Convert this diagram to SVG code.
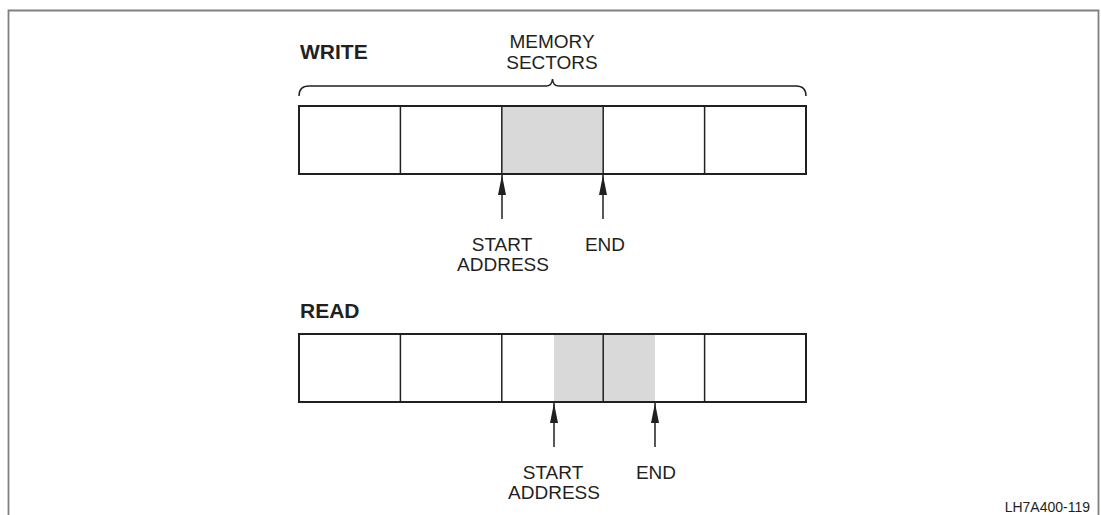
<svg xmlns="http://www.w3.org/2000/svg" width="1101" height="515" viewBox="0 0 1101 515">
<defs>
<style>
.t{font-family:"Liberation Sans",Arial,sans-serif;font-size:19px;fill:#231f20}
.b{font-family:"Liberation Sans",Arial,sans-serif;font-size:21px;font-weight:bold;fill:#231f20}
.box{fill:#fff;stroke:#231f20;stroke-width:2}
.div{stroke:#231f20;stroke-width:1.5}
.sh{fill:#d9d9d9}
.arr{stroke:#231f20;stroke-width:1.5;fill:none;marker-end:url(#ah)}
</style>
<marker id="ah" markerUnits="userSpaceOnUse" markerWidth="20" markerHeight="10" refX="20" refY="0" orient="auto" viewBox="0 -5 20 10">
<path d="M0,-4 L20,0 L0,4 Z" fill="#231f20"/>
</marker>
</defs>
<rect width="1101" height="515" fill="#fff"/>
<path d="M8.5,515 V10.5 H1098.5 V515" fill="none" stroke="#808080" stroke-width="1.8"/>
<g id="write-label"><text class="b" x="300" y="59">WRITE</text></g>
<g id="memory-sectors-label">
<text class="t" x="552" y="48" text-anchor="middle">MEMORY</text>
<text class="t" x="552" y="69" text-anchor="middle">SECTORS</text>
<path d="M299,96 Q299,86 309,86 L546,86 Q552,86 552.5,79 Q553,86 559,86 L796,86 Q806,86 806,96" fill="none" stroke="#231f20" stroke-width="1.5"/>
</g>
<g id="write-sectors">
<rect class="box" x="299" y="106" width="507" height="68"/>
<rect class="sh" x="501.8" y="107" width="101.4" height="66"/>
<line class="div" x1="400.4" y1="106" x2="400.4" y2="174"/>
<line class="div" x1="501.8" y1="106" x2="501.8" y2="174"/>
<line class="div" x1="603.2" y1="106" x2="603.2" y2="174"/>
<line class="div" x1="704.6" y1="106" x2="704.6" y2="174"/>
</g>
<g id="write-start"><text class="t" x="502" y="251" text-anchor="middle">START</text><text class="t" x="503" y="271" text-anchor="middle">ADDRESS</text></g>
<g id="write-end"><text class="t" x="605" y="251" text-anchor="middle">END</text></g>
<g id="read-label"><text class="b" x="300" y="318">READ</text></g>
<g id="read-sectors">
<rect class="box" x="299" y="334" width="507" height="68"/>
<rect class="sh" x="554" y="335" width="101" height="66"/>
<line class="div" x1="400.4" y1="334" x2="400.4" y2="402"/>
<line class="div" x1="501.8" y1="334" x2="501.8" y2="402"/>
<line class="div" x1="603.2" y1="334" x2="603.2" y2="402"/>
<line class="div" x1="704.6" y1="334" x2="704.6" y2="402"/>
</g>
<g id="read-start"><text class="t" x="553" y="479" text-anchor="middle">START</text><text class="t" x="554" y="499" text-anchor="middle">ADDRESS</text></g>
<g id="read-end"><text class="t" x="656" y="479" text-anchor="middle">END</text></g>
<g id="connectors">
<line class="arr" x1="502" y1="219" x2="502" y2="175"/>
<line class="arr" x1="603" y1="219" x2="603" y2="175"/>
<line class="arr" x1="554" y1="447" x2="554" y2="403"/>
<line class="arr" x1="655" y1="447" x2="655" y2="403"/>
</g>
<g id="figure-id"><text x="1090" y="512" text-anchor="end" style="font-family:'Liberation Sans',Arial,sans-serif;font-size:14px;fill:#231f20">LH7A400-119</text></g>
</svg>
